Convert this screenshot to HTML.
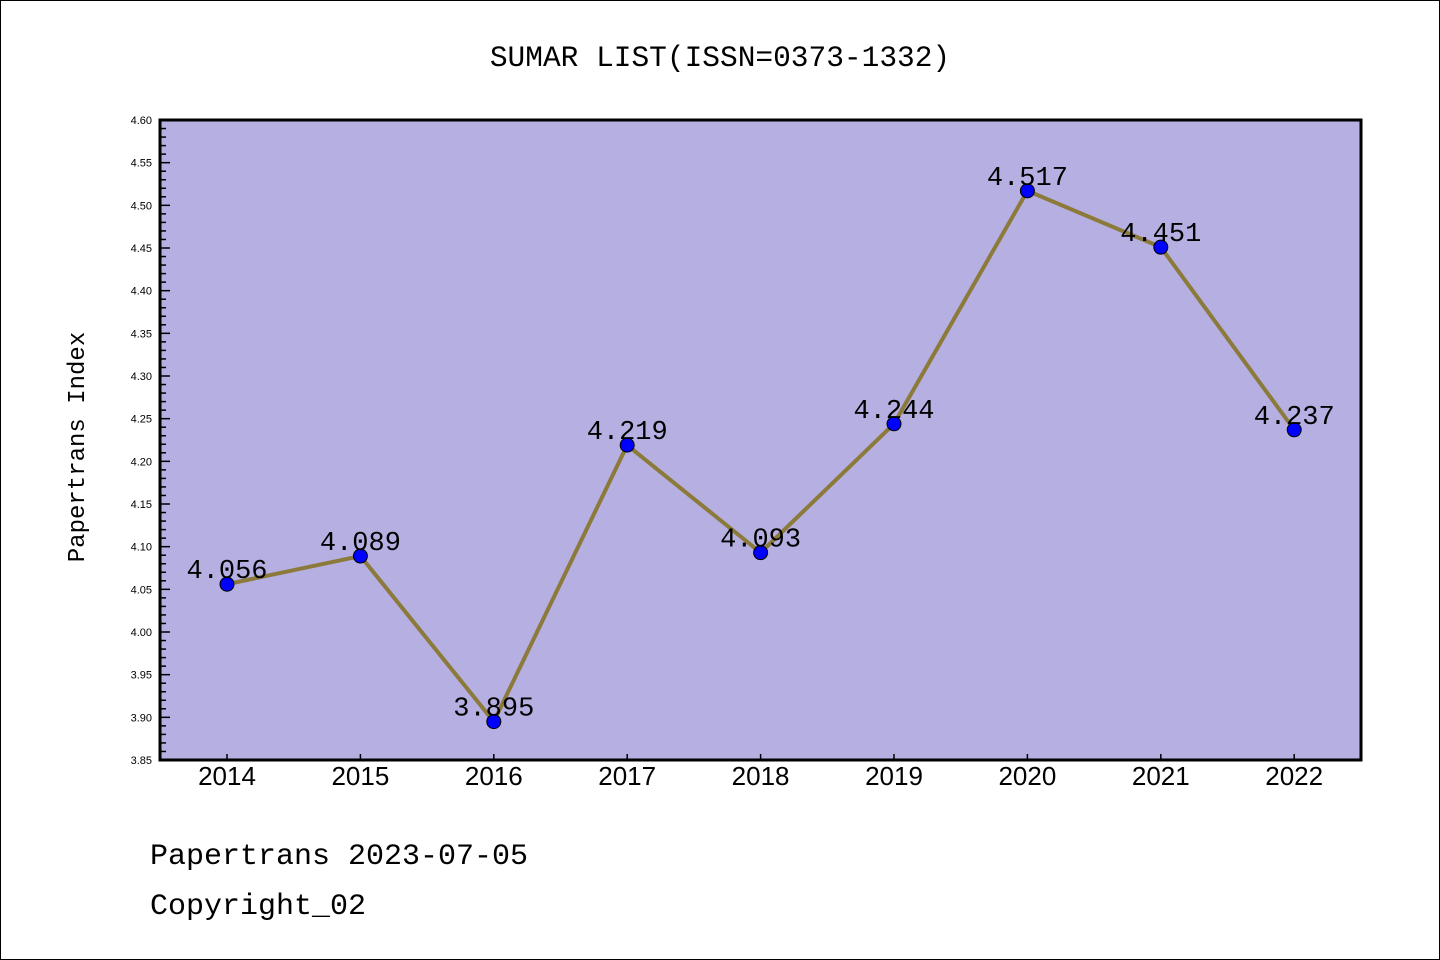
<!DOCTYPE html>
<html><head><meta charset="utf-8"><style>
body{margin:0;background:#fff}
svg{display:block;font-family:"Liberation Sans",sans-serif}
.mono{font-family:"Liberation Mono",monospace}
</style></head><body>
<svg width="1440" height="960">
<rect x="0.5" y="0.5" width="1439" height="959" fill="#fff" stroke="#000"/>
<text class="mono" x="720" y="66" text-anchor="middle" font-size="29.5">SUMAR LIST(ISSN=0373-1332)</text>
<rect x="160" y="120" width="1201" height="640" fill="#b5afe2"/>
<g id="yax"></g>
<g id="xax"></g>
<g id="series"></g>
<rect x="160" y="120" width="1201" height="640" fill="none" stroke="#000" stroke-width="3"/>
<text class="mono" transform="translate(84,447) rotate(-90)" text-anchor="middle" font-size="24">Papertrans Index</text>
<text class="mono" x="150" y="864" font-size="30">Papertrans 2023-07-05</text>
<text class="mono" x="150" y="914" font-size="30">Copyright_02</text>
</svg>
<script>
const years=["2014","2015","2016","2017","2018","2019","2020","2021","2022"];
const values=[4.056,4.089,3.895,4.219,4.093,4.244,4.517,4.451,4.237];
const labels=["4.056","4.089","3.895","4.219","4.093","4.244","4.517","4.451","4.237"];
const yTicks=["3.85","3.90","3.95","4.00","4.05","4.10","4.15","4.20","4.25","4.30","4.35","4.40","4.45","4.50","4.55","4.60"];
const NS="http://www.w3.org/2000/svg";
const yMin=3.85,yMax=4.60,yTop=120,yBot=760,x0=227,dx=133.4;
const Y=v=>yBot-(v-yMin)/(yMax-yMin)*(yBot-yTop);
const X=i=>x0+i*dx;
function mk(t,a,p){const e=document.createElementNS(NS,t);for(const k in a)e.setAttribute(k,a[k]);p.appendChild(e);return e;}
const yax=document.getElementById('yax');
for(let k=0;k<=75;k++){const v=yMin+k*0.01,y=Y(v),maj=k%5===0;
 const l=mk('line',{x1:160,x2:160+(maj?10:6),y1:y,y2:y,stroke:'#000','stroke-width':1.5},yax);
 
 }
yTicks.forEach(t=>{const e=mk('text',{x:152,y:Y(+t)+4,'text-anchor':'end','font-size':11},yax);e.textContent=t;
 
 });
const xax=document.getElementById('xax');
years.forEach((t,i)=>{const l=mk('line',{x1:X(i),x2:X(i),y1:yBot,y2:yBot-6,stroke:'#000','stroke-width':1.5},xax);
 
 
 const e=mk('text',{x:X(i),y:785,'text-anchor':'middle','font-size':26},xax);e.textContent=t;
 
 });
const s=document.getElementById('series');
const ln=mk('polyline',{points:values.map((v,i)=>X(i)+','+Y(v)).join(' '),fill:'none',stroke:'#8b7a3a','stroke-width':4},s);


values.forEach((v,i)=>{const c=mk('circle',{cx:X(i),cy:Y(v),r:7,fill:'#0000ff',stroke:'#000','stroke-width':1},s);
 
 
 const t=mk('text',{x:X(i),y:Y(v)-6,'text-anchor':'middle','font-size':27,'class':'mono'},s);t.textContent=labels[i];
 
 });
</script>
</body></html>
